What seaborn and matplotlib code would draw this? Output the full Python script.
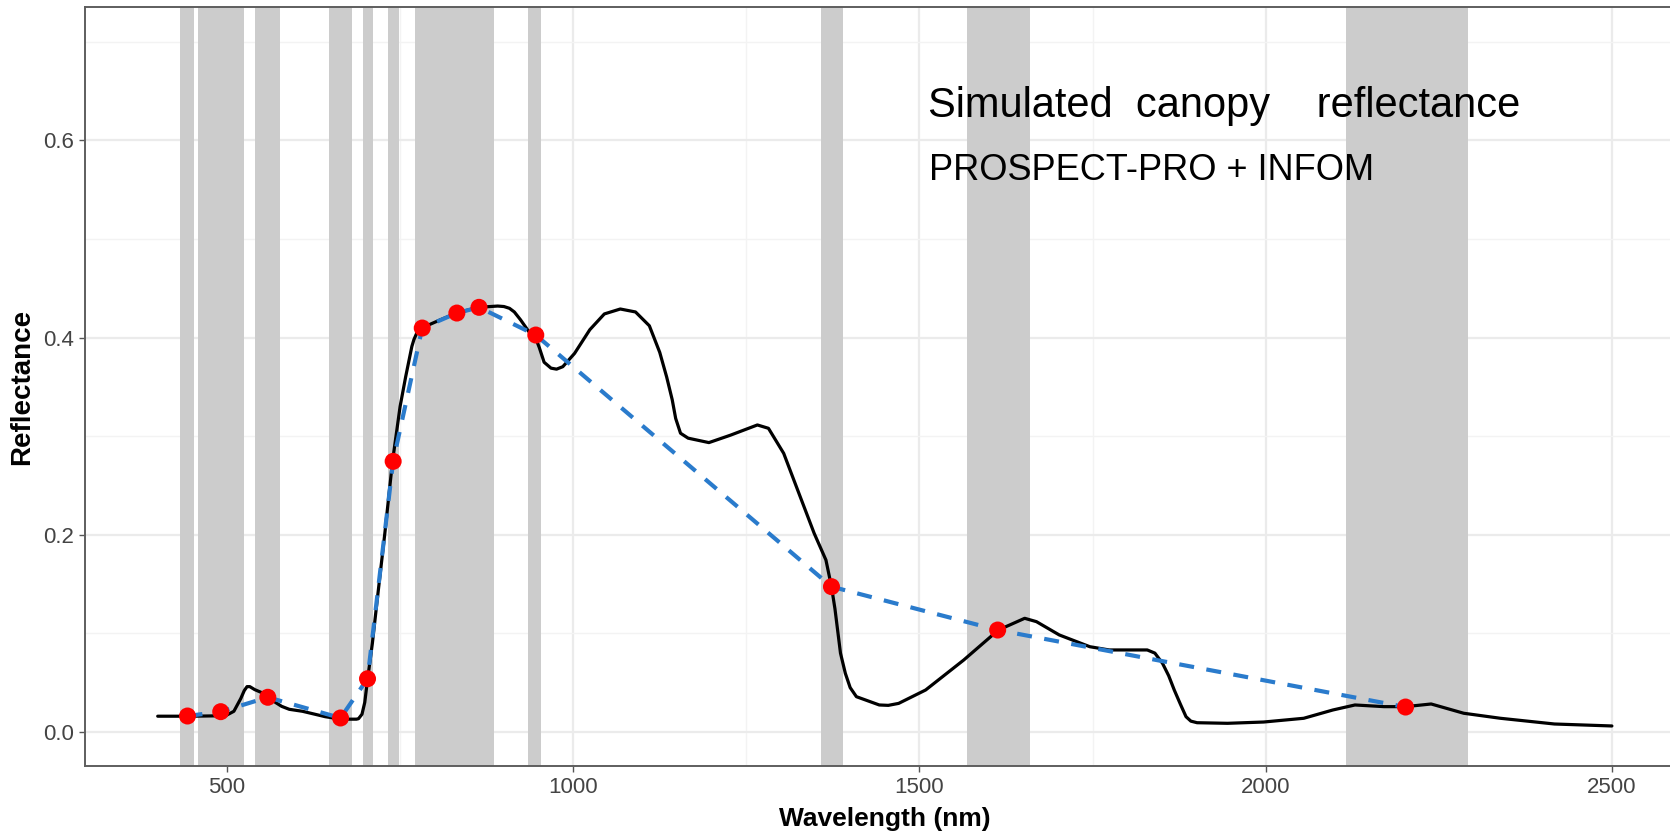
import numpy as np
import pandas as pd
import matplotlib
matplotlib.use("Agg")
import matplotlib.pyplot as plt
import seaborn as sns
from matplotlib import font_manager
from matplotlib.ticker import FixedLocator, FormatStrFormatter

# ---------------- data ----------------
# simulated canopy reflectance (black curve)
curve_nm = [400, 450, 498, 510, 520, 525, 529, 533, 540, 550, 560, 570, 579, 590,
            609, 642, 665, 687, 690, 695, 699, 703, 710, 717, 728, 739, 750, 758,
            767, 770, 775, 782, 795, 808, 832, 863, 891, 900, 908, 915, 924, 938,
            946, 951, 958, 968, 976, 985, 1002, 1024, 1045, 1068, 1090, 1110, 1125,
            1135, 1143, 1148, 1155, 1166, 1196, 1227, 1266, 1282, 1304, 1326, 1348,
            1365, 1373, 1378, 1386, 1393, 1400, 1409, 1442, 1455, 1470, 1509, 1564,
            1614, 1652, 1669, 1702, 1746, 1774, 1829, 1840, 1851, 1860, 1868, 1877,
            1885, 1892, 1901, 1945, 1997, 2055, 2097, 2129, 2171, 2202, 2239, 2286,
            2339, 2417, 2500]
curve_refl = [0.016, 0.016, 0.0165, 0.021, 0.034, 0.042, 0.046, 0.046, 0.043, 0.040,
              0.036, 0.030, 0.026, 0.023, 0.021, 0.0155, 0.013, 0.013, 0.0135, 0.018,
              0.030, 0.053, 0.090, 0.134, 0.2015, 0.274, 0.330, 0.360, 0.391, 0.398,
              0.406, 0.410, 0.414, 0.418, 0.425, 0.4307, 0.432, 0.4315, 0.4297,
              0.426, 0.418, 0.404, 0.399, 0.390, 0.375, 0.369, 0.368, 0.3705, 0.384,
              0.408, 0.424, 0.429, 0.426, 0.412, 0.385, 0.360, 0.337, 0.318, 0.303,
              0.298, 0.2935, 0.301, 0.3114, 0.308, 0.2826, 0.242, 0.2015, 0.1744,
              0.1474, 0.125, 0.080, 0.0595, 0.045, 0.0358, 0.0274, 0.027, 0.029,
              0.0426, 0.073, 0.1034, 0.1153, 0.1119, 0.0984, 0.0865, 0.0832, 0.0832,
              0.080, 0.0697, 0.057, 0.0426, 0.028, 0.0155, 0.011, 0.0094, 0.0088,
              0.0101, 0.0139, 0.0223, 0.0274, 0.0257, 0.0257, 0.0284, 0.019, 0.0139,
              0.0081, 0.0061]

# band-sampled reflectance (red points / dashed line)
band_nm = [443, 491, 559, 664, 703, 740, 782, 832, 864, 946, 1373, 1613, 2202]
band_refl = [0.0162, 0.0206, 0.0352, 0.0142, 0.054, 0.2745, 0.4097, 0.4249,
             0.4307, 0.4026, 0.1474, 0.1034, 0.0253]

# spectral band extents (grey shading)
band_lo = [432, 458, 541, 648, 696, 733, 772, 935, 1358, 1569, 2116]
band_hi = [452, 525, 577, 680, 711, 748, 886, 954, 1389, 1660, 2292]

x_ticks = [500, 1000, 1500, 2000, 2500]
x_minor = [750, 1250, 1750, 2250]
y_ticks = [0.0, 0.2, 0.4, 0.6]
y_minor = [0.1, 0.3, 0.5, 0.7]

title_line1 = "Simulated  canopy    reflectance"
title_line2 = "PROSPECT-PRO + INFOM"

# ---------------- style ----------------
sns.set_theme(style="white")
plt.rcParams["font.family"] = ["Liberation Sans", "DejaVu Sans"]
names = {f.name for f in font_manager.fontManager.ttflist}
has_narrow = "Liberation Sans Narrow" in names
narrow = ["Liberation Sans Narrow", "DejaVu Sans"] if has_narrow else ["Liberation Sans", "DejaVu Sans"]
tick_size = 17 if has_narrow else 16
xlab_size = 21 if has_narrow else 19

W, H = 1670, 833
fig = plt.figure(figsize=(W / 100, H / 100), dpi=100)
fig.patch.set_facecolor("white")
left, right, top, bottom = 85, 1684.6, 7.3, 766
ax = fig.add_axes([left / W, 1 - bottom / H, (right - left) / W, (bottom - top) / H])
ax.set_facecolor("white")

ax.set_xlim(295, 2605)
ax.set_ylim(-0.0345, 0.735)

for lo, hi in zip(band_lo, band_hi):
    ax.axvspan(lo, hi, color="#CCCCCC", lw=0, zorder=1)

df_curve = pd.DataFrame({"Wavelength": curve_nm, "Reflectance": curve_refl})
df_band = pd.DataFrame({"Wavelength": band_nm, "Reflectance": band_refl})

sns.lineplot(data=df_curve, x="Wavelength", y="Reflectance", color="black",
             lw=2.3, ax=ax, zorder=3, estimator=None, sort=True)
for ln in ax.lines:
    ln.set_solid_joinstyle("round")
    ln.set_solid_capstyle("round")
sns.lineplot(data=df_band, x="Wavelength", y="Reflectance", color="#2a7bcc",
             lw=3.0, ax=ax, zorder=4, estimator=None, linestyle=(0, (3.6, 3.0)))
sns.scatterplot(data=df_band, x="Wavelength", y="Reflectance", color="#FF0000",
                s=150, edgecolor="none", linewidth=0, ax=ax, zorder=5)

ax.set_xticks(x_ticks)
ax.set_yticks(y_ticks)
ax.xaxis.set_minor_locator(FixedLocator(x_minor))
ax.yaxis.set_minor_locator(FixedLocator(y_minor))
ax.yaxis.set_major_formatter(FormatStrFormatter("%.1f"))
ax.grid(which="major", color="#EBEBEB", lw=1.6, zorder=0)
ax.grid(which="minor", color="#F3F3F3", lw=1.0, zorder=0)
ax.set_axisbelow(True)

ax.tick_params(axis="both", which="major", length=4.2, width=1.0, color="#555555",
               labelcolor="#444444", labelsize=tick_size, pad=4, direction="out",
               bottom=True, left=True)
ax.tick_params(axis="both", which="minor", length=0)
for lbl in ax.get_xticklabels() + ax.get_yticklabels():
    lbl.set_fontfamily(narrow)

for sp in ax.spines.values():
    sp.set_color("#5E5E5E")
    sp.set_linewidth(1.4)
    sp.set_visible(True)

ax.set_xlabel("Wavelength (nm)", fontsize=xlab_size, fontweight="bold", family=narrow,
              color="black", labelpad=6)
ax.set_ylabel("Reflectance", fontsize=20, fontweight="bold",
              family=["Liberation Sans", "DejaVu Sans"], color="black")
ax.yaxis.set_label_coords(-0.031, 0.5)

ax.text(1512, 0.624, title_line1, fontsize=30, family=["Liberation Sans", "DejaVu Sans"],
        ha="left", va="baseline", color="black", zorder=6)
ax.text(1514, 0.560, title_line2, fontsize=26, family=["Liberation Sans", "DejaVu Sans"],
        ha="left", va="baseline", color="black", zorder=6)

fig.savefig("out.png", dpi=100)
